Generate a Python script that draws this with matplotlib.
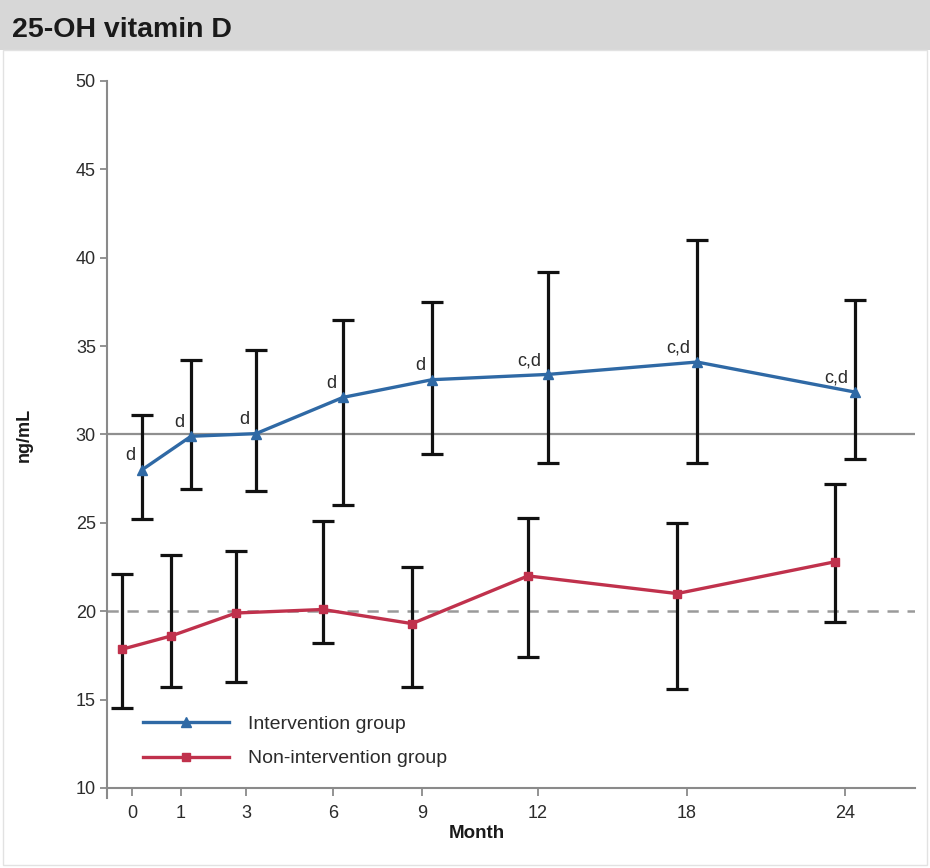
import matplotlib.pyplot as plt
from matplotlib.patches import Rectangle

plt.rcParams['font.family'] = ['Liberation Sans', 'DejaVu Sans']

months = ["0", "1", "3", "6", "9", "12", "18", "24"]
# slot of each visit along the x axis (axis spans 0..808)
month_pos = [25, 74, 139, 226, 315, 431, 580, 738]

int_mean = [28.0, 29.9, 30.05, 32.1, 33.1, 33.4, 34.1, 32.4]
int_low = [25.2, 26.9, 26.8, 26.0, 28.9, 28.4, 28.4, 28.6]
int_high = [31.1, 34.2, 34.8, 36.5, 37.5, 39.2, 41.0, 37.6]
int_marks = ["d", "d", "d", "d", "d", "c,d", "c,d", "c,d"]

non_mean = [17.85, 18.6, 19.9, 20.1, 19.3, 22.0, 21.0, 22.8]
non_low = [14.5, 15.7, 16.0, 18.2, 15.7, 17.4, 15.6, 19.4]
non_high = [22.1, 23.2, 23.4, 25.1, 22.5, 25.3, 25.0, 27.2]

blue = "#2f69a5"
red = "#c0314c"
axis_grey = "#8a8a8a"
text_dark = "#2b2b2b"
dodge = 10

fig = plt.figure(figsize=(9.3, 8.68), dpi=100)
fig.patch.set_facecolor("white")

# title band
fig.add_artist(Rectangle((0, 1 - 50 / 868), 1, 50 / 868, transform=fig.transFigure,
                         facecolor="#d7d7d7", edgecolor="none"))
fig.text(12 / 930, 1 - 30 / 868, "25-OH vitamin D", fontsize=20.5, fontweight="bold",
         color="#1a1a1a", va="center", ha="left")
fig.add_artist(Rectangle((0.003, 0.003), 0.994, 1 - 50 / 868 - 0.003, transform=fig.transFigure,
                         fill=False, edgecolor="#e2e2e2", lw=1))

ax = fig.add_axes([107 / 930, 1 - 788 / 868, 808 / 930, 707 / 868])

int_x = [p + dodge for p in month_pos]
non_x = [p - dodge for p in month_pos]

ax.axhline(30, color="#8f8f8f", lw=1.6, zorder=1)
ax.axhline(20, color="#9a9a9a", lw=1.8, dashes=(4.5, 3.5), zorder=1)

err_kw = dict(fmt="none", ecolor="#111111", elinewidth=2.3, capsize=8, capthick=2.3, zorder=2)
ax.errorbar(int_x, int_mean,
            yerr=[[m - lo for m, lo in zip(int_mean, int_low)],
                  [hi - m for m, hi in zip(int_mean, int_high)]], **err_kw)
ax.errorbar(non_x, non_mean,
            yerr=[[m - lo for m, lo in zip(non_mean, non_low)],
                  [hi - m for m, hi in zip(non_mean, non_high)]], **err_kw)

ax.plot(int_x, int_mean, color=blue, lw=2.4, marker="^", ms=7, zorder=3,
        label="Intervention group")
ax.plot(non_x, non_mean, color=red, lw=2.4, marker="s", ms=5.5, zorder=3,
        label="Non-intervention group")

for x, y, t in zip(int_x, int_mean, int_marks):
    ax.annotate(t, (x, y), xytext=(-5, 10), textcoords="offset points",
                ha="right", va="center", fontsize=13, color=text_dark)

ax.set_xlim(0, 808)
ax.set_ylim(10, 50)
ax.set_yticks(range(10, 51, 5))
ax.set_xticks(month_pos)
ax.set_xticklabels(months)

for side in ["top", "right"]:
    ax.spines[side].set_visible(False)
for side in ["left", "bottom"]:
    ax.spines[side].set_color(axis_grey)
    ax.spines[side].set_linewidth(1.5)
ax.spines["left"].set_bounds(9.45, 50)

ax.tick_params(axis="both", colors=axis_grey, labelcolor=text_dark, labelsize=13,
               length=5, width=1.3, direction="out")
ax.tick_params(axis="x", length=6, pad=6)
ax.tick_params(axis="y", pad=3)

ax.set_xlabel("Month", fontsize=13.5, fontweight="bold", color="#1a1a1a")
ax.xaxis.set_label_coords(0.458, -0.052)
ax.set_ylabel("ng/mL", fontsize=13, fontweight="bold", color="#1a1a1a")
ax.yaxis.set_label_coords(-0.092, 0.5)

ax.legend(loc="center left", bbox_to_anchor=(0.0446, 0.0658), frameon=False,
          fontsize=14, handlelength=4.4, handletextpad=1.0, labelspacing=0.85,
          borderpad=0, borderaxespad=0, labelcolor=text_dark)

fig.savefig("out.png", dpi=100)
